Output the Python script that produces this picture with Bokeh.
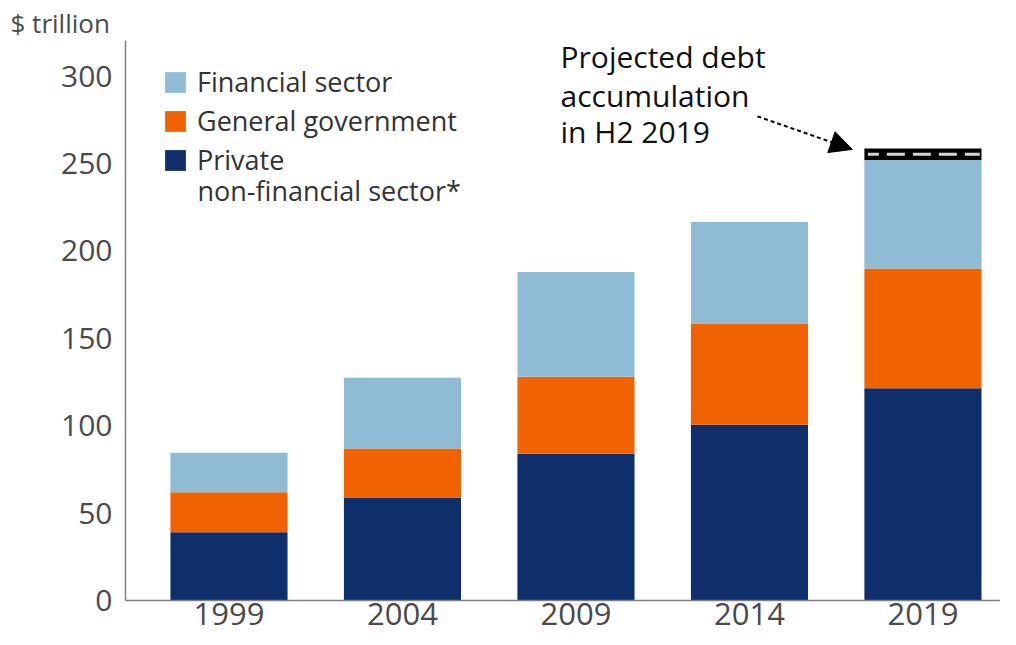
from bokeh.plotting import figure
from bokeh.models import (Range1d, FixedTicker, Legend, LegendItem, Label, Arrow,
                          NormalHead, ColumnDataSource)
from bokeh.embed import file_html
from bokeh.resources import INLINE

# ---- data ($ trillion) ----
years = ["1999", "2004", "2009", "2014", "2019"]
private_nonfin = [39.0, 59.0, 84.0, 100.5, 121.5]
general_gov = [23.0, 28.0, 44.0, 58.0, 68.5]
financial = [22.5, 40.5, 60.0, 58.0, 62.0]
projected_h2 = [0.0, 0.0, 0.0, 0.0, 6.6]
y_ticks = [0, 50, 100, 150, 200, 250, 300]

FONT = "Open Sans"
NAVY = "#0e2f6b"
ORANGE = "#f06300"
LIGHT = "#8fbcd4"
BLACK = "#000000"
BAR_W = 0.675

x = list(range(len(years)))
source = ColumnDataSource(dict(x=x, private=private_nonfin, gov=general_gov,
                               fin=financial, proj=projected_h2))

p = figure(width=1000, height=637,
           x_range=Range1d(-0.5965, 4.447), y_range=Range1d(0, 320.4),
           output_backend="svg", toolbar_location=None,
           min_border_left=125, min_border_top=40, min_border_right=0,
           min_border_bottom=37)

# unit label as a left-aligned title
p.title.text = "$ trillion"
p.title.align = "left"
p.title.offset = -115
p.title.standoff = 0
p.title.text_font = FONT
p.title.text_font_size = "26px"
p.title.text_font_style = "normal"
p.title.text_color = "#4a4a4a"

rs = p.vbar_stack(["private", "gov", "fin", "proj"], x="x", width=BAR_W,
                  color=[NAVY, ORANGE, LIGHT, BLACK], line_color=None,
                  source=source)

# dashed line inside the projected band
i_last = len(years) - 1
base_last = private_nonfin[i_last] + general_gov[i_last] + financial[i_last]
mid_proj = base_last + projected_h2[i_last] / 2.0
total_last = base_last + projected_h2[i_last]
p.segment(x0=[x[i_last] - BAR_W / 2 + 0.02], x1=[x[i_last] + BAR_W / 2 - 0.01],
          y0=[mid_proj], y1=[mid_proj], line_color="#d4d4d4", line_width=3,
          line_dash="18 8", line_dash_offset=7)

# axes
p.xaxis.ticker = FixedTicker(ticks=x)
p.xaxis.major_label_overrides = {i: y for i, y in enumerate(years)}
p.yaxis.ticker = FixedTicker(ticks=y_ticks)
for ax in (p.xaxis, p.yaxis):
    ax.axis_line_color = "#808080"
    ax.axis_line_width = 1.5
    ax.major_tick_line_color = None
    ax.minor_tick_line_color = None
    ax.major_tick_out = 0
    ax.major_tick_in = 0
    ax.major_label_text_font = FONT
    ax.major_label_text_color = "#4a4a4a"
p.yaxis.major_label_text_font_size = "30px"
p.xaxis.major_label_text_font_size = "31px"
p.xaxis.major_label_standoff = 2
p.yaxis.major_label_standoff = 13
p.xgrid.grid_line_color = None
p.ygrid.grid_line_color = None
p.outline_line_color = None

# legend
legend = Legend(items=[
    LegendItem(label="Financial sector", renderers=[rs[2]]),
    LegendItem(label="General government", renderers=[rs[1]]),
    LegendItem(label="Private", renderers=[rs[0]]),
], location=(37, 422), margin=0, padding=0, spacing=2,
    glyph_width=26, glyph_height=26, label_standoff=9,
    label_text_font=FONT, label_text_font_size="27px",
    label_text_color="#333333", border_line_color=None,
    background_fill_alpha=0)
p.add_layout(legend)
p.add_layout(Label(x=-0.1815, y=234.6, text="non-financial sector*",
                   text_font=FONT, text_font_size="27px", text_color="#333333",
                   text_baseline="middle"))

# annotation
for txt, yy in [("Projected debt", 311.3), ("accumulation", 289.0), ("in H2 2019", 268.2)]:
    p.add_layout(Label(x=1.911, y=yy, text=txt, text_font=FONT,
                       text_font_size="30px", text_color="#111111",
                       text_baseline="middle"))
p.add_layout(Arrow(end=NormalHead(size=22, fill_color="black", line_color="black"),
                   x_start=3.046, y_start=277.0,
                   x_end=x[i_last] - BAR_W / 2 - 0.07, y_end=total_last - 0.5,
                   line_color="black", line_width=2, line_dash="4 3"))

open("out.html", "w").write(file_html(p, INLINE))
